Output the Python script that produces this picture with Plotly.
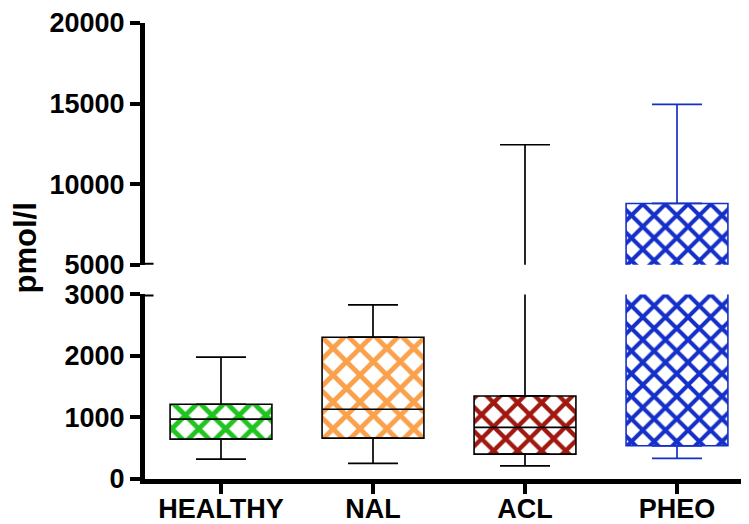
import plotly.graph_objects as go

categories = ["HEALTHY", "NAL", "ACL", "PHEO"]
whisker_low = [324, 255, 215, 335]
q1 = [648, 664, 405, 540]
median = [972, 1134, 838, 4000]
q3 = [1215, 2305, 1350, 8810]
whisker_high = [1980, 2832, 12450, 14950]

lower_ticks = [0, 1000, 2000, 3000]
upper_ticks = [5000, 10000, 15000, 20000]

fill_colors = ["#1FC41F", "#FBA04B", "#A0180F", "#1530C8"]
line_colors = ["black", "black", "black", "#1530C8"]
pattern_sizes = [19, 19, 17, 16]

FONT = "Arial, Liberation Sans, Helvetica, sans-serif"

fig = go.Figure()

subplots = [("x", "y"), ("x2", "y2")]

for xa, ya in subplots:
    fig.add_trace(go.Bar(
        x=categories,
        y=[h - l for h, l in zip(q3, q1)],
        base=q1,
        width=0.67,
        xaxis=xa, yaxis=ya,
        marker=dict(
            color="white",
            line=dict(color=line_colors, width=1.6),
            pattern=dict(shape="x", fgcolor=fill_colors, bgcolor="white", fgopacity=1,
                         size=pattern_sizes, solidity=0.44),
        ),
        showlegend=False, hoverinfo="skip",
    ))
    for i, cat in enumerate(categories):
        c = line_colors[i]
        fig.add_trace(go.Scatter(
            x=[cat], y=[q3[i]], mode="markers", marker=dict(size=1, opacity=0),
            xaxis=xa, yaxis=ya, showlegend=False, hoverinfo="skip",
            error_y=dict(type="data", symmetric=False, array=[whisker_high[i] - q3[i]],
                         arrayminus=[0], width=25, thickness=1.7, color=c),
        ))
        fig.add_trace(go.Scatter(
            x=[cat], y=[q1[i]], mode="markers", marker=dict(size=1, opacity=0),
            xaxis=xa, yaxis=ya, showlegend=False, hoverinfo="skip",
            error_y=dict(type="data", symmetric=False, array=[0],
                         arrayminus=[q1[i] - whisker_low[i]], width=25, thickness=1.7, color=c),
        ))
        fig.add_trace(go.Scatter(
            x=[cat], y=[median[i]], mode="markers", marker=dict(size=1, opacity=0),
            xaxis=xa, yaxis=ya, showlegend=False, hoverinfo="skip",
            error_y=dict(type="data", array=[0], width=51, thickness=1.7, color=c),
        ))

tickfont = dict(family=FONT, size=27, color="black", weight="bold")

fig.update_layout(
    width=745, height=516,
    margin=dict(l=137, r=0, t=10, b=39),
    paper_bgcolor="white", plot_bgcolor="white",
    barmode="overlay",
    xaxis=dict(domain=[0, 1], range=[-0.5, 3.5], showline=True, linewidth=5,
               linecolor="black", ticks="outside", ticklen=10, tickwidth=4,
               tickcolor="black", tickfont=tickfont, showgrid=False, zeroline=False,
               categoryorder="array", categoryarray=categories, anchor="y",
               ticklabelstandoff=-8),
    xaxis2=dict(domain=[0, 1], range=[-0.5, 3.5], matches="x", visible=False,
                anchor="y2", showgrid=False),
    yaxis=dict(domain=[0, 0.4047], range=[0, 3000], tickvals=lower_ticks,
               ticktext=[str(v) for v in lower_ticks],
               showline=True, linewidth=5, linecolor="black", ticks="outside",
               ticklen=10, tickwidth=4, tickcolor="black", tickfont=tickfont,
               showgrid=False, zeroline=False, anchor="x"),
    yaxis2=dict(domain=[0.4696, 1], range=[5000, 20000],
                tickvals=upper_ticks, ticktext=[str(v) for v in upper_ticks],
                showline=True, linewidth=5, linecolor="black", ticks="outside",
                ticklen=10, tickwidth=4, tickcolor="black", tickfont=tickfont,
                showgrid=False, zeroline=False, anchor="x2"),
    annotations=[dict(text="pmol/l", xref="paper", yref="paper", x=-0.197, y=0.506,
                      xanchor="center", yanchor="middle", textangle=-90, showarrow=False,
                      font=dict(family=FONT, size=31, color="black", weight="bold"))],
    shapes=[
        dict(type="line", xref="paper", x0=0, x1=0.014, yref="y2", y0=5000, y1=5000,
             line=dict(color="black", width=4)),
        dict(type="line", xref="paper", x0=0, x1=0.014, yref="y", y0=3000, y1=3000,
             line=dict(color="black", width=4)),
    ],
)

fig.write_html("out.html")
